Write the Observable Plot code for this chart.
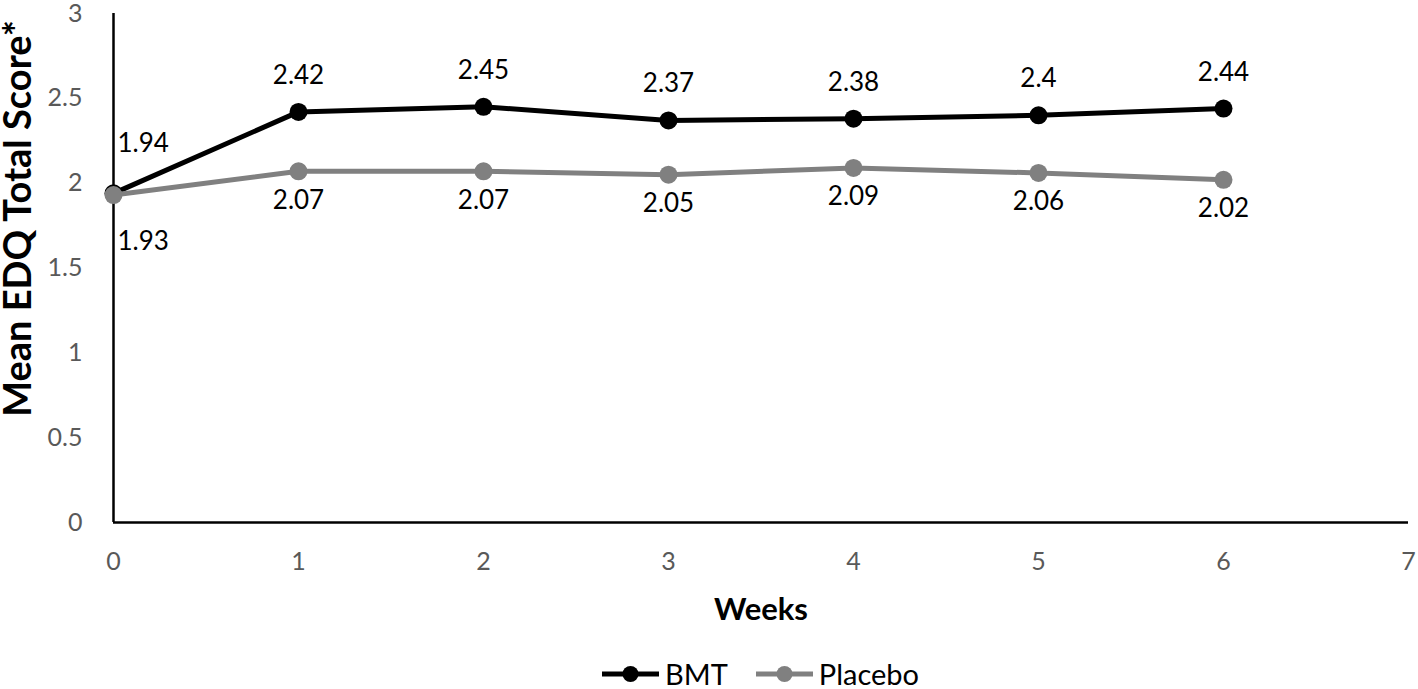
<!DOCTYPE html>
<html>
<head>
<meta charset="utf-8">
<script src="https://cdn.jsdelivr.net/npm/d3@7"></script>
<script src="https://cdn.jsdelivr.net/npm/@observablehq/plot@0.6"></script>
<style>
  html, body { margin: 0; padding: 0; background: #fff; }
  body { font-family: Lato, "Open Sans", sans-serif; width: 1418px; height: 689px; overflow: hidden; }
  #legend {
    height: 39px; box-sizing: border-box; padding-top: 8px;
    margin-left: 113px; margin-right: 10px;
    display: flex; align-items: center; justify-content: center;
    font-family: Lato, sans-serif; font-size: 29px; line-height: 1; color: #000;
  }
  .item { display: flex; align-items: center; margin: 0 14px; }
  .item svg { margin-right: 6px; }
  .item span { line-height: 1; }
</style>
</head>
<body>
<div id="chart"></div>
<div id="legend"></div>
<script>
// ---- data ----
const weeks = [0, 1, 2, 3, 4, 5, 6];
const bmt = [1.94, 2.42, 2.45, 2.37, 2.38, 2.4, 2.44];
const placebo = [1.93, 2.07, 2.07, 2.05, 2.09, 2.06, 2.02];
const seriesNames = ["BMT", "Placebo"];
const seriesColors = ["#000000", "#808080"];
const xTicks = [0, 1, 2, 3, 4, 5, 6, 7];
const yTicks = [0, 0.5, 1, 1.5, 2, 2.5, 3];
const xTitle = "Weeks";
const yTitle = "Mean EDQ Total Score*";

const B = weeks.map((w, i) => ({week: w, value: bmt[i], series: seriesNames[0]}));
const P = weeks.map((w, i) => ({week: w, value: placebo[i], series: seriesNames[1]}));
const fmt = d => String(d.value);

const chart = Plot.plot({
  width: 1418,
  height: 650,
  marginLeft: 113,
  marginRight: 10,
  marginTop: 13,
  marginBottom: 128,
  style: {fontFamily: "Lato, sans-serif", fontSize: "25px", background: "#fff", overflow: "visible"},
  x: {domain: [0, 7]},
  y: {domain: [0, 3]},
  marks: [
    Plot.axisY({ticks: yTicks, tickSize: 0, tickPadding: 31, fontSize: 25, color: "#595959", label: null, tickFormat: d => String(d)}),
    Plot.axisX({ticks: xTicks, tickSize: 0, tickPadding: 30, fontSize: 25, color: "#595959", label: null, tickFormat: d => String(d)}),
    Plot.ruleX([0], {stroke: "#000", strokeWidth: 2.5}),
    Plot.ruleY([0], {stroke: "#000", strokeWidth: 2.5}),
    Plot.line(B, {x: "week", y: "value", stroke: seriesColors[0], strokeWidth: 5}),
    Plot.dot(B, {x: "week", y: "value", r: 9, fill: seriesColors[0], stroke: null}),
    Plot.line(P, {x: "week", y: "value", stroke: seriesColors[1], strokeWidth: 5}),
    Plot.dot(P, {x: "week", y: "value", r: 9, fill: seriesColors[1], stroke: null}),
    Plot.text(B.filter(d => d.week > 0), {x: "week", y: "value", text: fmt, lineAnchor: "bottom", dy: -28, fontSize: 26, fill: "#000"}),
    Plot.text(B.filter(d => d.week === 0), {x: "week", y: "value", text: fmt, textAnchor: "start", lineAnchor: "bottom", dx: 4, dy: -41, fontSize: 26, fill: "#000"}),
    Plot.text(P.filter(d => d.week > 0), {x: "week", y: "value", text: fmt, lineAnchor: "top", dy: 19, fontSize: 26, fill: "#000"}),
    Plot.text(P.filter(d => d.week === 0), {x: "week", y: "value", text: fmt, textAnchor: "start", lineAnchor: "top", dx: 4, dy: 36, fontSize: 26, fill: "#000"}),
    Plot.text([xTitle], {text: d => d, frameAnchor: "bottom", textAnchor: "middle", lineAnchor: "middle", dy: 88, fontSize: 31, fontWeight: "bold", fill: "#000"}),
    Plot.text([yTitle], {text: d => d, frameAnchor: "left", textAnchor: "middle", rotate: -90, lineAnchor: "middle", dx: -95, dy: -49.5, fontSize: 38, fontWeight: "bold", fill: "#000"})
  ]
});
document.getElementById("chart").appendChild(chart);

// ---- legend ----
const legend = d3.select("#legend");
seriesNames.forEach((name, i) => {
  const item = legend.append("div").attr("class", "item");
  const svg = item.append("svg").attr("width", 57).attr("height", 20);
  svg.append("line").attr("x1", 0).attr("x2", 57).attr("y1", 10).attr("y2", 10)
    .attr("stroke", seriesColors[i]).attr("stroke-width", 5);
  svg.append("circle").attr("cx", 28.5).attr("cy", 10).attr("r", 8).attr("fill", seriesColors[i]);
  item.append("span").text(name);
});
</script>
</body>
</html>
